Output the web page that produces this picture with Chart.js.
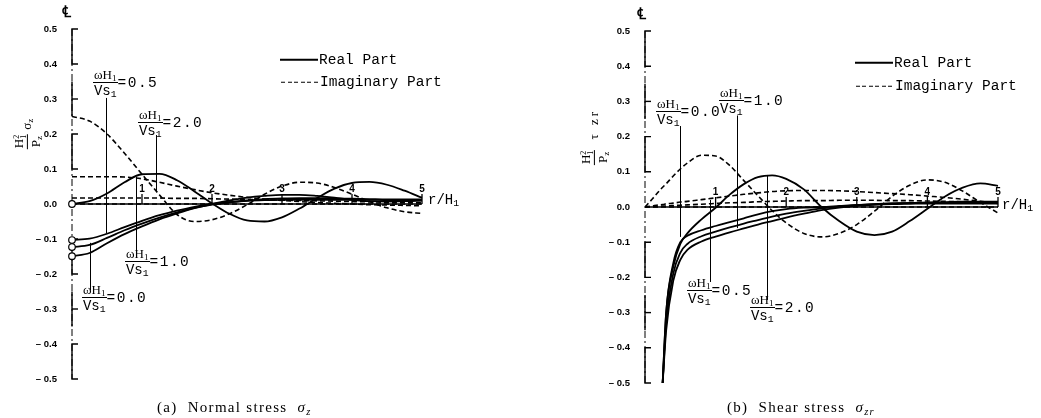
<!DOCTYPE html>
<html>
<head>
<meta charset="utf-8">
<script src="https://cdn.jsdelivr.net/npm/chart.js@4.4.1/dist/chart.umd.min.js"></script>
<style>
  body { margin: 0; background: #fff; }
  #wrap { position: relative; width: 1041px; height: 418px; overflow: hidden; color: #000;
          font-family: "Liberation Mono", monospace; }
  canvas { position: absolute; top: 0; }
  #chartA { left: 0; }
  #chartB { left: 520px; }
  .t { position: absolute; white-space: nowrap; line-height: 1; }
  .leg { font-size: 14.5px; display: flex; align-items: center; transform: translateY(-50%); }
  .sw { display: inline-block; width: 38px; height: 2px; background: #000; margin-right: 1px; }
  .sw.dash { height: 1.5px; background: repeating-linear-gradient(to right, #000 0 4px, transparent 4px 6.5px); }
  .ann { display: flex; align-items: center; transform: translateY(-50%); }
  .frac { display: inline-flex; flex-direction: column; align-items: center; }
  .frac .n { font-family: "Liberation Serif", serif; font-size: 13px; border-bottom: 1px solid #000; padding: 0 1px 1px; line-height: 1; }
  .frac .d { font-size: 14px; padding-top: 1px; line-height: 1; }
  .ann .eq { font-size: 14.5px; letter-spacing: 1.5px; }
  sub { font-size: 70%; vertical-align: -0.25em; line-height: 0; }
  .yt { position: absolute; white-space: nowrap; font-family: "Liberation Serif", serif;
        display: flex; align-items: center; transform: translate(-50%, -50%) rotate(-90deg); }
  .yt .frac .n { font-size: 13px; padding: 0 1px; }
  .yt .frac .d { font-family: "Liberation Serif", serif; font-size: 13px; }
  .yt .sym { font-size: 13px; margin-left: 4px; }
  .ss { display: inline-flex; flex-direction: column; font-size: 8px; line-height: 0.9; vertical-align: middle; }
  .cl { font-family: "DejaVu Serif", serif; font-size: 16px; font-weight: bold; }
  .cap { font-family: "Liberation Serif", serif; font-size: 15px; letter-spacing: 1.3px; }
  .rh { font-size: 14px; }
</style>
</head>
<body>
<div id="wrap">
  <canvas id="chartA" width="520" height="418"></canvas>
  <canvas id="chartB" width="521" height="418"></canvas>

  <!-- panel (a) texts -->
  <div class="t cl" style="left:62px;top:4px">℄</div>
  <div class="yt" style="left:27px;top:134px">
    <span class="frac"><span class="n">H<span class="ss"><span>2</span><span>1</span></span></span><span class="d">P<sub>z</sub></span></span><span class="sym">σ<sub>z</sub></span>
  </div>
  <div class="t leg" style="left:280px;top:60px"><span class="sw"></span>Real Part</div>
  <div class="t leg" style="left:281px;top:82px"><span class="sw dash"></span>Imaginary Part</div>
  <div class="t ann" style="left:93px;top:83px"><span class="frac"><span class="n">ωH<sub>1</sub></span><span class="d">Vs<sub>1</sub></span></span><span class="eq">=0.5</span></div>
  <div class="t ann" style="left:138px;top:123px"><span class="frac"><span class="n">ωH<sub>1</sub></span><span class="d">Vs<sub>1</sub></span></span><span class="eq">=2.0</span></div>
  <div class="t ann" style="left:125px;top:262px"><span class="frac"><span class="n">ωH<sub>1</sub></span><span class="d">Vs<sub>1</sub></span></span><span class="eq">=1.0</span></div>
  <div class="t ann" style="left:82px;top:298px"><span class="frac"><span class="n">ωH<sub>1</sub></span><span class="d">Vs<sub>1</sub></span></span><span class="eq">=0.0</span></div>
  <div class="t rh" style="left:428px;top:193px">r/H<sub>1</sub></div>
  <div class="t cap" style="left:157px;top:400px">(a)&nbsp;&nbsp;Normal stress&nbsp;&nbsp;<i>σ<sub>z</sub></i></div>

  <!-- panel (b) texts -->
  <div class="t cl" style="left:637px;top:6px">℄</div>
  <div class="yt" style="left:594px;top:137px">
    <span class="frac"><span class="n">H<span class="ss"><span>2</span><span>1</span></span></span><span class="d">P<sub>z</sub></span></span><span class="sym" style="letter-spacing:3px">&nbsp;τ zr</span>
  </div>
  <div class="t leg" style="left:855px;top:63px"><span class="sw"></span>Real Part</div>
  <div class="t leg" style="left:856px;top:86px"><span class="sw dash"></span>Imaginary Part</div>
  <div class="t ann" style="left:656px;top:112px"><span class="frac"><span class="n">ωH<sub>1</sub></span><span class="d">Vs<sub>1</sub></span></span><span class="eq">=0.0</span></div>
  <div class="t ann" style="left:719px;top:101px"><span class="frac"><span class="n">ωH<sub>1</sub></span><span class="d">Vs<sub>1</sub></span></span><span class="eq">=1.0</span></div>
  <div class="t ann" style="left:687px;top:291px"><span class="frac"><span class="n">ωH<sub>1</sub></span><span class="d">Vs<sub>1</sub></span></span><span class="eq">=0.5</span></div>
  <div class="t ann" style="left:750px;top:308px"><span class="frac"><span class="n">ωH<sub>1</sub></span><span class="d">Vs<sub>1</sub></span></span><span class="eq">=2.0</span></div>
  <div class="t rh" style="left:1002px;top:198px">r/H<sub>1</sub></div>
  <div class="t cap" style="left:727px;top:400px">(b)&nbsp;&nbsp;Shear stress&nbsp;&nbsp;<i>σ<sub>zr</sub></i></div>
</div>

<script>
// ==========================
// DATA - (a) normal stress
// ==========================
const rA = [0, 0.25, 0.5, 0.75, 1, 1.25, 1.5, 1.75, 2, 2.25, 2.5, 2.75, 3, 3.25, 3.5, 3.75, 4, 4.25, 4.5, 4.75, 5];

const aReal00 = [-0.123, -0.117, -0.097, -0.075, -0.056, -0.039, -0.024, -0.011, -0.002, 0.005, 0.01, 0.014, 0.016, 0.017, 0.017, 0.016, 0.015, 0.014, 0.013, 0.013, 0.013];
const aReal05 = [-0.103, -0.099, -0.085, -0.066, -0.048, -0.032, -0.019, -0.008, 0.0, 0.005, 0.009, 0.011, 0.012, 0.012, 0.012, 0.012, 0.012, 0.012, 0.011, 0.011, 0.011];
const aReal10 = [-0.149, -0.14, -0.112, -0.086, -0.064, -0.044, -0.027, -0.012, 0.0, 0.01, 0.018, 0.023, 0.026, 0.026, 0.023, 0.018, 0.012, 0.008, 0.007, 0.008, 0.01];
const aReal20 = [0, 0.008, 0.03, 0.062, 0.085, 0.086, 0.068, 0.036, 0.002, -0.028, -0.047, -0.05, -0.038, -0.013, 0.017, 0.044, 0.06, 0.063, 0.055, 0.038, 0.018];

const aImag00 = [0, 0, 0, 0, 0, 0, 0, 0, 0, 0, 0, 0, 0, 0, 0, 0, 0, 0, 0, 0, 0];
const aImag05 = [0.017, 0.017, 0.017, 0.017, 0.017, 0.017, 0.016, 0.016, 0.015, 0.014, 0.013, 0.012, 0.011, 0.01, 0.009, 0.008, 0.007, 0.006, 0.005, 0.005, 0.004];
const aImag10 = [0.078, 0.078, 0.078, 0.077, 0.072, 0.062, 0.051, 0.041, 0.032, 0.025, 0.019, 0.014, 0.01, 0.007, 0.004, 0.002, 0.0, -0.002, -0.003, -0.004, -0.005];
const aImag20 = [0.25, 0.237, 0.2, 0.145, 0.085, 0.026, -0.03, -0.05, -0.045, -0.028, -0.002, 0.028, 0.051, 0.062, 0.06, 0.047, 0.028, 0.007, -0.011, -0.022, -0.027];

// ==========================
// DATA - (b) shear stress
// ==========================
const rB = [0, 0.1, 0.2, 0.25, 0.3, 0.4, 0.5, 0.6, 0.8, 1, 1.2, 1.4, 1.6, 1.8, 2, 2.25, 2.5, 2.75, 3, 3.25, 3.5, 3.75, 4, 4.25, 4.5, 4.75, 5];

const bReal00 = [null, null, null, -0.5, -0.3, -0.16, -0.1, -0.082, -0.066, -0.054, -0.043, -0.032, -0.021, -0.012, -0.006, -0.002, 0.0, 0.003, 0.006, 0.008, 0.01, 0.012, 0.013, 0.014, 0.015, 0.015, 0.015];
const bReal05 = [null, null, null, -0.5, -0.33, -0.19, -0.13, -0.105, -0.083, -0.07, -0.058, -0.047, -0.037, -0.027, -0.019, -0.011, -0.004, 0.001, 0.005, 0.008, 0.01, 0.011, 0.012, 0.012, 0.012, 0.012, 0.012];
const bReal10 = [null, null, null, -0.5, -0.35, -0.21, -0.15, -0.122, -0.098, -0.084, -0.072, -0.061, -0.05, -0.04, -0.03, -0.019, -0.009, -0.002, 0.003, 0.006, 0.008, 0.009, 0.01, 0.01, 0.01, 0.01, 0.01];
const bReal20 = [null, null, null, -0.5, -0.3, -0.17, -0.105, -0.075, -0.035, -0.002, 0.035, 0.065, 0.085, 0.09, 0.08, 0.05, 0.0, -0.04, -0.07, -0.08, -0.07, -0.04, -0.005, 0.03, 0.055, 0.067, 0.06];

const bImag00 = [0, 0, 0, 0, 0, 0, 0, 0, 0, 0, 0, 0, 0, 0, 0, 0, 0, 0, 0, 0, 0, 0, 0, 0, 0, 0, 0];
const bImag05 = [0, 0.001, 0.002, 0.003, 0.003, 0.004, 0.005, 0.006, 0.008, 0.01, 0.012, 0.013, 0.015, 0.016, 0.017, 0.018, 0.018, 0.019, 0.019, 0.019, 0.018, 0.018, 0.017, 0.016, 0.015, 0.014, 0.013];
const bImag10 = [0, 0.003, 0.006, 0.007, 0.009, 0.011, 0.014, 0.016, 0.021, 0.026, 0.031, 0.036, 0.04, 0.044, 0.046, 0.047, 0.047, 0.046, 0.044, 0.041, 0.038, 0.035, 0.031, 0.027, 0.022, 0.016, 0.01];
const bImag20 = [0, 0.022, 0.045, 0.056, 0.066, 0.088, 0.108, 0.125, 0.147, 0.145, 0.118, 0.075, 0.032, -0.01, -0.045, -0.075, -0.085, -0.075, -0.05, -0.012, 0.03, 0.062, 0.077, 0.07, 0.045, 0.013, -0.017];

const rTicks = [1, 2, 3, 4, 5];

// leader lines from the frequency labels to the curves (data units)
const leadersA = [
  { r: 0.49, from: 0.303, to: -0.083 },
  { r: 1.2, from: 0.197, to: 0.034 },
  { r: 0.91, from: -0.154, to: 0.077 },
  { r: 0.26, from: -0.246, to: -0.111 }
];
const leadersB = [
  { r: 0.5, from: 0.23, to: -0.085 },
  { r: 1.3, from: 0.26, to: -0.06 },
  { r: 0.92, from: -0.213, to: 0.02 },
  { r: 1.73, from: -0.264, to: 0.091 }
];

// centre-line axis decoration (brackets and ticks)
const bracketSpans = [[0.4, 0.5], [0.1, 0.2], [-0.2, -0.1], [-0.5, -0.4]];
const midTicks = [0.3, -0.3];

// ==========================
// PLUGIN: centre line, r axis, leaders
// ==========================
function seg(ctx, x1, y1, x2, y2) {
  ctx.beginPath();
  ctx.moveTo(x1, y1);
  ctx.lineTo(x2, y2);
  ctx.stroke();
}

const axisDeco = {
  id: "axisDeco",
  beforeDatasetsDraw(chart) {
    const { ctx } = chart;
    const xs = chart.scales.x, ys = chart.scales.y;
    const x0 = xs.getPixelForValue(0);
    const y0 = ys.getPixelForValue(0);
    ctx.save();
    ctx.strokeStyle = "#000";
    ctx.fillStyle = "#000";

    // dash-dot centre line
    ctx.lineWidth = 1;
    ctx.setLineDash([7, 3, 2, 3]);
    seg(ctx, x0, ys.getPixelForValue(0.5), x0, ys.getPixelForValue(-0.5));
    ctx.setLineDash([]);

    ctx.lineWidth = 1.4;
    bracketSpans.forEach(([lo, hi]) => {
      const a = ys.getPixelForValue(lo), b = ys.getPixelForValue(hi);
      ctx.beginPath();
      ctx.moveTo(x0 + 6, b);
      ctx.lineTo(x0, b);
      ctx.lineTo(x0, a);
      ctx.lineTo(x0 + 6, a);
      ctx.stroke();
    });
    midTicks.forEach(v => {
      seg(ctx, x0, ys.getPixelForValue(v + 0.05), x0, ys.getPixelForValue(v - 0.05));
      seg(ctx, x0, ys.getPixelForValue(v), x0 + 6, ys.getPixelForValue(v));
    });

    // r/H1 axis
    ctx.lineWidth = 1.3;
    seg(ctx, x0, y0, xs.getPixelForValue(5), y0);
    ctx.font = 'bold 10px "Liberation Sans"';
    ctx.textAlign = "center";
    ctx.textBaseline = "bottom";
    rTicks.forEach(t => {
      const x = xs.getPixelForValue(t);
      seg(ctx, x, y0, x, y0 - 10);
      ctx.fillText(String(t), x, y0 - 10);
    });
    ctx.restore();
  },
  afterDatasetsDraw(chart, args, opts) {
    const { ctx } = chart;
    const xs = chart.scales.x, ys = chart.scales.y;
    ctx.save();
    ctx.strokeStyle = "#000";
    ctx.lineWidth = 1;
    (opts.leaders || []).forEach(l => {
      const x = Math.round(xs.getPixelForValue(l.r)) + 0.5;
      seg(ctx, x, ys.getPixelForValue(l.from), x, ys.getPixelForValue(l.to));
    });
    ctx.restore();
  }
};

// ==========================
// CHART BUILDERS
// ==========================
function toPoints(rs, vals) {
  return rs.map((r, i) => ({ x: r, y: vals[i] }));
}

function realSet(rs, vals, label, markStart) {
  return {
    label,
    data: toPoints(rs, vals),
    borderColor: "#000",
    borderWidth: 1.8,
    clip: false,
    cubicInterpolationMode: "monotone",
    pointRadius: c => (markStart && c.dataIndex === 0 ? 3.3 : 0),
    pointBackgroundColor: "#fff",
    pointBorderColor: "#000",
    pointBorderWidth: 1.2
  };
}

function imagSet(rs, vals, label) {
  return {
    label,
    data: toPoints(rs, vals),
    borderColor: "#000",
    borderWidth: 1.6,
    borderDash: [5, 3],
    cubicInterpolationMode: "monotone",
    pointRadius: 0
  };
}

function fmtTick(v) {
  const n = Math.round(v * 10) / 10;
  if (n < 0) return "– " + Math.abs(n).toFixed(1);
  return Math.abs(n).toFixed(1);
}

function baseOptions(padding, axisWidth, leaders) {
  return {
    responsive: false,
    animation: false,
    layout: { padding },
    plugins: {
      legend: { display: false },
      tooltip: { enabled: false },
      axisDeco: { leaders }
    },
    scales: {
      x: { type: "linear", min: 0, max: 5, display: false },
      y: {
        type: "linear",
        min: -0.5,
        max: 0.5,
        afterFit: s => { s.width = axisWidth; },
        grid: { display: false, drawTicks: false },
        border: { display: false },
        ticks: {
          stepSize: 0.1,
          padding: 15,
          color: "#000",
          font: { family: "Liberation Sans", size: 9.5, weight: "bold" },
          callback: fmtTick
        }
      }
    }
  };
}

new Chart(document.getElementById("chartA").getContext("2d"), {
  type: "line",
  data: {
    datasets: [
      realSet(rA, aReal00, "Real 0.0", true),
      realSet(rA, aReal05, "Real 0.5", true),
      realSet(rA, aReal10, "Real 1.0", true),
      realSet(rA, aReal20, "Real 2.0", true),
      imagSet(rA, aImag00, "Imaginary 0.0"),
      imagSet(rA, aImag05, "Imaginary 0.5"),
      imagSet(rA, aImag10, "Imaginary 1.0"),
      imagSet(rA, aImag20, "Imaginary 2.0")
    ]
  },
  options: baseOptions({ left: 0, top: 29, right: 98, bottom: 39 }, 72, leadersA),
  plugins: [axisDeco]
});

new Chart(document.getElementById("chartB").getContext("2d"), {
  type: "line",
  data: {
    datasets: [
      realSet(rB, bReal00, "Real 0.0", false),
      realSet(rB, bReal05, "Real 0.5", false),
      realSet(rB, bReal10, "Real 1.0", false),
      realSet(rB, bReal20, "Real 2.0", false),
      imagSet(rB, bImag00, "Imaginary 0.0"),
      imagSet(rB, bImag05, "Imaginary 0.5"),
      imagSet(rB, bImag10, "Imaginary 1.0"),
      imagSet(rB, bImag20, "Imaginary 2.0")
    ]
  },
  options: baseOptions({ left: 0, top: 31, right: 43, bottom: 35 }, 125, leadersB),
  plugins: [axisDeco]
});
</script>
</body>
</html>
